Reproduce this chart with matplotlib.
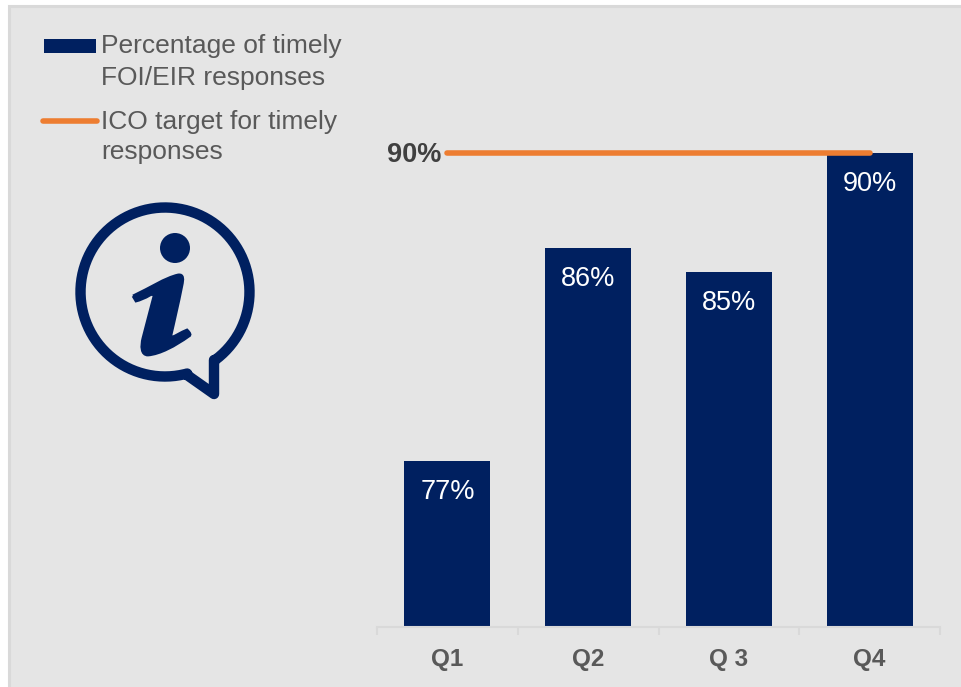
import numpy as np
import matplotlib
matplotlib.use("Agg")
import matplotlib.pyplot as plt
from matplotlib.patches import Rectangle, Circle, PathPatch
from matplotlib.path import Path
from matplotlib.lines import Line2D

categories = ["Q1", "Q2", "Q 3", "Q4"]
timely_pct = [77, 86, 85, 90]
target_pct = [90, 90, 90, 90]
legend_bar = "Percentage of timely\nFOI/EIR responses"
legend_line = "ICO target for timely\nresponses"

NAVY = "#002060"
ORANGE = "#ED7D31"
GREY = "#595959"
DARK = "#404040"
BG = "#E5E5E5"
EDGE = "#D9D9D9"
W, H = 961, 687
plt.rcParams["font.family"] = ["Liberation Sans", "DejaVu Sans"]

fig = plt.figure(figsize=(W / 100, H / 100), dpi=100, facecolor="white")

# overlay in pixel coordinates for panel, legend and icon
ov = fig.add_axes([0, 0, 1, 1], zorder=0)
ov.set_xlim(0, W)
ov.set_ylim(H, 0)
ov.axis("off")
ov.add_patch(Rectangle((8.5, 6), W + 20, H + 20, fc=BG, ec=EDGE, lw=2.2))

# legend
ov.add_patch(Rectangle((44, 39), 52, 14, fc=NAVY, ec="none"))
ov.add_line(Line2D([43, 97], [120.5, 120.5], color=ORANGE, lw=4, solid_capstyle="round"))
ov.text(101, 34.5, legend_bar, fontsize=19, color=GREY, va="top", linespacing=1.38)
ov.text(101, 109.5, legend_line, fontsize=19, color=GREY, va="top", linespacing=1.34)

# info icon
cx, cy, r = 165, 292, 84.5
a0 = np.arctan2(68, 50)
a1 = np.arctan2(81, 22)
ang = np.linspace(a0, a1 - 2 * np.pi, 200)
pts = np.column_stack([cx + r * np.cos(ang), cy + r * np.sin(ang)])
pts = np.vstack([pts, [[187, 375], [214, 394], [214, 360]]])
ov.add_line(Line2D(pts[:, 0], pts[:, 1], color=NAVY, lw=7.5, solid_joinstyle="round", solid_capstyle="round"))
ov.add_patch(Circle((175, 248), 15, fc=NAVY, ec="none"))
M, C, L = Path.MOVETO, Path.CURVE4, Path.LINETO
body = [(133, 296), (150, 288), (165, 278), (178, 275), (184, 274), (183, 280), (182, 285),
        (178, 305), (174, 322), (171, 335), (170, 339), (172, 337), (175, 336),
        (181, 333), (184, 331), (187, 330), (190, 333), (191, 335), (189, 336),
        (175, 346), (160, 354), (148, 355), (141, 355), (141, 346), (143, 338),
        (147, 322), (151, 308), (154, 296), (155, 293), (153, 294), (150, 295),
        (145, 298), (140, 300), (136, 301), (133, 296)]
codes = [M] + [C] * 33 + [L]
ov.add_patch(PathPatch(Path(body, codes), fc=NAVY, ec=NAVY, lw=2))

# chart
px_per_pct = (461 - 153) / 13
y_min, y_max = 70, 92
left, right, base = 377, 940, 627
ax = fig.add_axes([left / W, (H - base) / H, (right - left) / W, (y_max - y_min) * px_per_pct / H],
                  zorder=1, facecolor="none")
x = np.arange(len(categories))
bars = ax.bar(x, timely_pct, width=0.61, color=NAVY, zorder=2, linewidth=0)
ax.plot(x, target_pct, color=ORANGE, lw=4, solid_capstyle="round", zorder=3)
ax.set_xlim(-0.5, 3.5)
ax.set_ylim(y_min, y_max)
ax.yaxis.set_visible(False)
for s in ["top", "left", "right"]:
    ax.spines[s].set_visible(False)
ax.spines["bottom"].set_color(EDGE)
ax.spines["bottom"].set_linewidth(1.5)
ax.set_xticks(x, categories, fontsize=17.5, fontweight="bold", color=GREY)
ax.set_xticks(np.arange(-0.5, 4), minor=True)
ax.tick_params(axis="x", which="major", length=0, pad=15)
ax.tick_params(axis="x", which="minor", length=6, width=1.5, color=EDGE)
for xi, v in zip(x, timely_pct):
    ax.annotate(f"{v}%", (xi, v), xytext=(0, -31 * 0.72), textcoords="offset points",
                ha="center", va="center", color="white", fontsize=19.5, zorder=4)
ax.annotate(f"{target_pct[0]}%", (x[0], target_pct[0]), xytext=(-6 * 0.72, -2 * 0.72),
            textcoords="offset points", ha="right", va="center", color=DARK,
            fontsize=19.5, fontweight="bold", zorder=4)

fig.savefig("out.png", dpi=100, facecolor="white")
